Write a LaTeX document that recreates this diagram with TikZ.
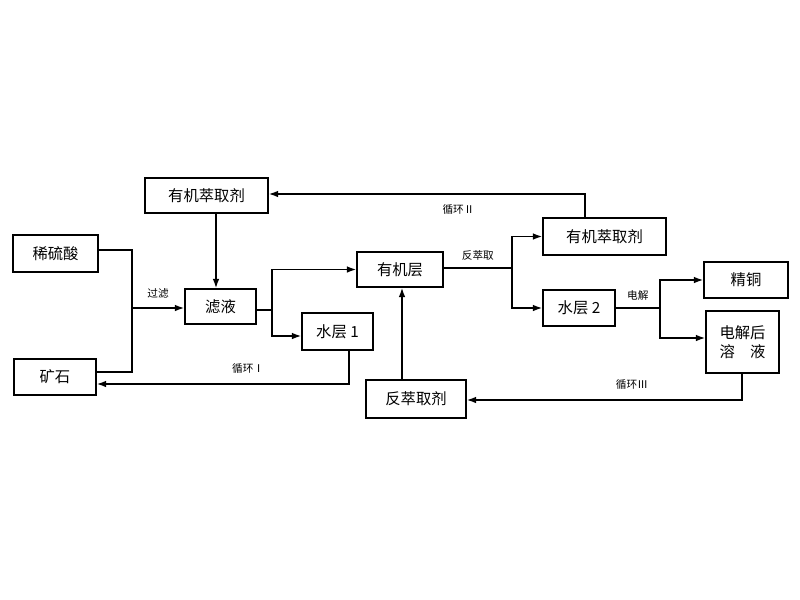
\documentclass[tikz,border=0pt]{standalone}
\usepackage{fontspec}
\setmainfont{Noto Sans CJK SC}
\usetikzlibrary{arrows.meta}
\begin{document}
\begin{tikzpicture}[x=0.75pt,y=-0.75pt,
  box/.style={draw,line width=1.2pt,inner sep=0pt,font=\fontsize{11.5}{14}\selectfont},
  ln/.style={line width=1.1pt},
  ar/.style={ln,-{Latex[length=7pt,width=5pt]}},
  lab/.style={font=\fontsize{8}{9}\selectfont}]
\useasboundingbox (0,0) rectangle (800,600);
\newcommand{\bx}[6]{\node[box,minimum width=#4*0.75pt,minimum height=#5*0.75pt,align=center] (#1) at (#2,#3) {#6};}
\bx{tl}{206.5}{195.5}{123}{35}{有机萃取剂}
\bx{xs}{55.5}{253.5}{85}{37}{稀硫酸}
\bx{ks}{55}{377}{82}{36}{矿石}
\bx{ly}{220.5}{306.5}{71}{35}{滤液}
\bx{s1}{337.5}{331.5}{71}{37}{水层 1}
\bx{yj}{400}{269.5}{86}{35}{有机层}
\bx{fc}{416}{399}{100}{38}{反萃取剂}
\bx{tr}{604.5}{236.5}{123}{37}{有机萃取剂}
\bx{s2}{579}{308}{72}{36}{水层 2}
\bx{jt}{746}{280}{84}{36}{精铜}
\bx{dj}{742.5}{342}{73}{62}{电解后\\溶\quad 液}
\coordinate (m) at (132,308);
\draw[ln] (xs.east|-0,250) -| (m) |- (ks.east|-0,372);
\draw[ar] (m) -- node[lab,above=3pt]{过滤} (ly.west|-m);
\draw[ar] (tl.south-|216,0) -- (ly.north-|216,0);
\coordinate (a) at (272,310);
\draw[ln] (ly.east|-a) -- (a);
\draw[ar] (a) |- (yj.west);
\draw[ar] (a) |- (s1.west|-0,336);
\draw[ar] (349,350) |- node[lab,pos=0.7,above=4pt]{循环Ⅰ} (ks.east|-0,384);
\draw[ar] (585,218) |- node[lab,pos=0.7,below=4pt]{循环Ⅱ} (tl.east|-0,194);
\coordinate (b) at (512,268);
\draw[ln] (yj.east|-b) -- node[lab,above=2pt]{反萃取} (b);
\draw[ar] (b) |- (tr.west);
\draw[ar] (b) |- (s2.west);
\draw[ar] (fc.north-|402,0) -- (yj.south-|402,0);
\coordinate (c) at (660,308);
\draw[ln] (s2.east) -- node[lab,above=2pt]{电解} (c);
\draw[ar] (c) |- (jt.west);
\draw[ar] (c) |- (dj.west|-0,338);
\draw[ar] (742,373) |- node[lab,pos=0.7,above=4pt]{循环Ⅲ} (fc.east|-0,400);
\end{tikzpicture}
\end{document}
